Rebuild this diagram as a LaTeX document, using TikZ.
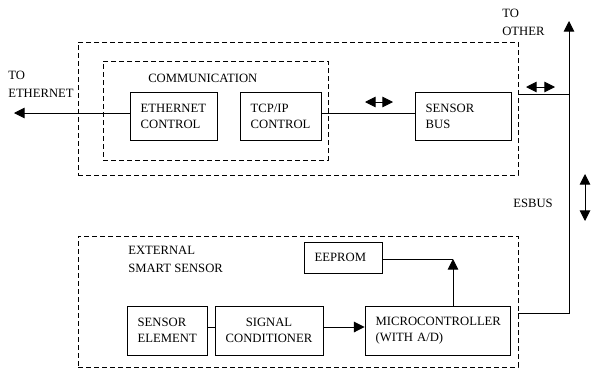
\documentclass[tikz,border=0pt]{standalone}
\usepackage{fontspec}
\setmainfont{Liberation Serif}
\usetikzlibrary{arrows.meta}

\tikzset{
  blk/.style={draw, line width=0.7pt, align=left, inner xsep=8pt, inner ysep=0pt, font=\fontsize{9.5}{12}\selectfont},
  grp/.style={draw, line width=0.7pt, dash pattern=on 3.5pt off 2.5pt, inner sep=0pt},
  lbl/.style={anchor=west, inner sep=0pt, align=left, font=\fontsize{9.5}{13.5}\selectfont},
  wire/.style={line width=0.7pt},
  arr/.style={line width=0.7pt, -{Triangle[length=8pt,width=8pt]}},
  dbl/.style={line width=0.7pt, {Triangle[length=8pt,width=8pt]}-{Triangle[length=8pt,width=8pt]}}
}

\begin{document}
\begin{tikzpicture}[x=0.75pt,y=0.75pt,yscale=-1,xscale=1]
\useasboundingbox (0,0) rectangle (592,372);

%Dashed groups
\node[grp, minimum width=330pt, minimum height=99.75pt] (netbox) at (298,108.5) {};
\node[grp, minimum width=168.75pt, minimum height=74.25pt] (commbox) at (215.5,110.5) {};
\node[grp, minimum width=330pt, minimum height=98.25pt] (sensbox) at (298,301.5) {};

%Blocks
\node[blk, text width=49.25pt, minimum height=36pt] (eth) at (173.5,116.5) {ETHERNET\\CONTROL};
\node[blk, text width=44.75pt, minimum height=36pt] (tcp) at (280.5,116.5) {TCP/IP\\CONTROL};
\node[blk, text width=56pt, minimum height=36pt] (sbus) at (463,116.5) {SENSOR\\BUS};
\node[blk, text width=42.5pt, minimum height=23.25pt] (eeprom) at (343,257.5) {EEPROM};
\node[blk, text width=44pt, minimum height=36.75pt] (selem) at (167,330.5) {SENSOR\\ELEMENT};
\node[blk, text width=65pt, minimum height=36.75pt, align=center] (sigc) at (269,330.5) {SIGNAL\\CONDITIONER};
\node[blk, text width=92.75pt, minimum height=36.75pt] (micro) at (437.5,330.5) {MICROCONTROLLER\\(WITH A/D)};

% Text Node
\node[lbl] (toethlbl) at (8,84) {TO\\ETHERNET};
% Text Node
\node[lbl] (commlbl) at (148,78) {COMMUNICATION};
% Text Node
\node[lbl] (tootherlbl) at (502,22) {TO\\OTHER};
% Text Node
\node[lbl] (extlbl) at (128,259.5) {EXTERNAL\\SMART SENSOR};
% Text Node
\node[lbl] (esbuslbl) at (513,203) {ESBUS};

%Connectors
\coordinate (toeth) at (14,113);
\coordinate (busj) at (569,94);
\coordinate (bustop) at (569,21);
\coordinate (busbot) at (569,313);
\coordinate (sigrow) at (0,327);
\coordinate (eepj) at (453,259);
\draw[arr] (eth.west |- toeth) -- (toeth);
\draw[wire] (tcp.east |- toeth) -- (sbus.west |- toeth);
\draw[wire] (netbox.east |- busj) -- (busj);
\draw[arr] (sensbox.east |- busbot) -- (busbot) -- (bustop);
\draw[wire] (selem.east |- sigrow) -- (sigc.west |- sigrow);
\draw[arr] (sigc.east |- sigrow) -- (micro.west |- sigrow);
\draw[wire] (eeprom.east |- eepj) -- (eepj);
\draw[arr] (micro.north -| eepj) -- (eepj);

%Double arrows
\coordinate (dba) at (365,102);
\coordinate (dbb) at (393,102);
\coordinate (dca) at (526,87);
\coordinate (dcb) at (555,87);
\coordinate (dda) at (585,174);
\coordinate (ddb) at (585,221);
\draw[dbl] (dba) -- (dbb);
\draw[dbl] (dca) -- (dcb);
\draw[dbl] (dda) -- (ddb);

\end{tikzpicture}
\end{document}
